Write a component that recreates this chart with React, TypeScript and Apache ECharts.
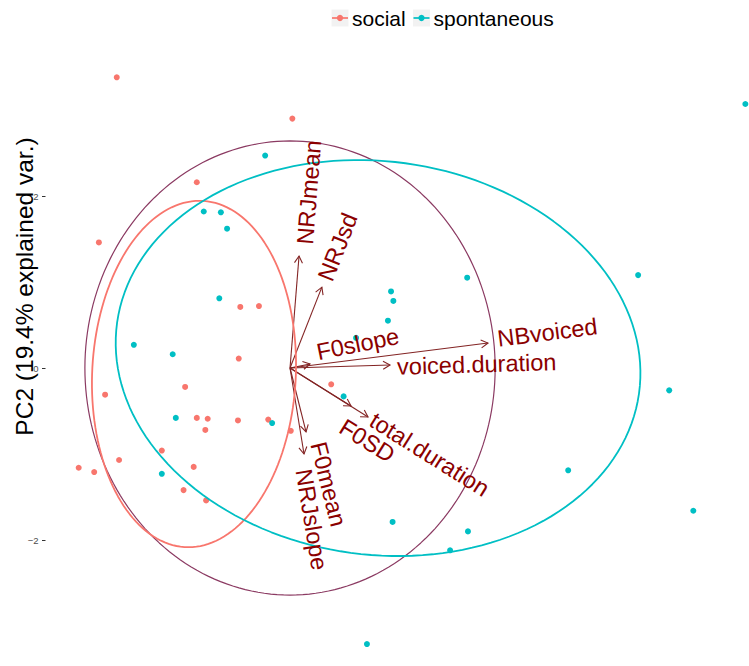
import React, { useEffect, useRef } from "react";
import * as echarts from "echarts";

// PCA scores (PC1, PC2) per speech type
const socialPC1 = [-2.23, 0.03, -1.2, -2.46, -0.64, -0.4, -0.66, -1.35, -2.38, -1.2, -1.06, -1.09, -0.67, -0.28, 0.01, -1.65, -2.2, -2.72, -2.52, -1.24, -1.37, -1.08, 0.53];
const socialPC2 = [3.38, 2.9, 2.16, 1.46, 0.71, 0.72, 0.11, -0.22, -0.31, -0.58, -0.59, -0.72, -0.61, -0.6, -0.73, -0.96, -1.07, -1.16, -1.21, -1.15, -1.42, -1.54, -0.19];
const spontaneousPC1 = [-0.32, -1.11, -0.89, -0.81, -0.91, -2.01, -1.51, -1.47, -0.23, -1.65, 2.28, 1.3, 1.33, 1.26, 0.85, 0.69, 3.58, 5.19, 1.32, 2.29, 2.06, 0.99, 5.86, 4.48, 4.88];
const spontaneousPC2 = [2.47, 1.82, 1.81, 1.62, 0.81, 0.27, 0.16, -0.58, -0.64, -1.23, 1.05, 0.89, 0.78, 0.55, 0.35, -0.33, -1.19, -1.66, -1.79, -1.9, -2.12, -3.21, 3.07, 1.08, -0.26];

// Variable loadings (arrow tips)
const variables = ["NRJmean", "NRJsd", "F0slope", "NBvoiced", "voiced.duration", "total.duration", "F0SD", "F0mean", "NRJslope"];
const loadingPC1 = [0.116, 0.41, 0.257, 2.548, 1.287, 1.004, 0.785, 0.206, 0.18];
const loadingPC2 = [1.302, 0.94, 0.047, 0.29, 0.035, -0.57, -0.442, -0.744, -1.0];

// Normal-probability ellipses per group: centre, semi-axes, tilt (degrees)
const groups = ["social", "spontaneous"];
const ellipseCenterX = [-1.236, 1.133];
const ellipseCenterY = [-0.07, 0.116];
const ellipseRadiusX = [1.31, 3.385];
const ellipseRadiusY = [2.016, 2.29];
const ellipseTilt = [-3.5, -5.5];

// Correlation circle radius
const circleRadius = 2.64;

// Y tick values
const yTicks = [-2, 0, 2];
const yTitle = "PC2 (19.4% explained var.)";

// ---- styling ----
const groupColors: Record<string, string> = { social: "#F8766D", spontaneous: "#00BFC4" };
const arrowColor = "#832424";
const labelColor = "#8B0000";
const circleColor = "#8B3A62";
const FONT = '"Liberation Sans", Arial, Helvetica, sans-serif';

// label nudges in pixels: [along arrow, perpendicular to arrow]
const labelNudge: Record<string, [number, number]> = {
  NRJmean: [12, -5],
  NRJsd: [8, 0],
  F0slope: [9, 10],
  NBvoiced: [10, 3],
  "voiced.duration": [7, -2],
  "total.duration": [4, 1],
  F0SD: [2, -21],
  F0mean: [13, 9],
  NRJslope: [15, -3],
};

function ellipsePoints(g: number, n = 160): number[][] {
  const phi = (ellipseTilt[g] * Math.PI) / 180;
  const pts: number[][] = [];
  for (let k = 0; k <= n; k++) {
    const t = (2 * Math.PI * k) / n;
    const ex = ellipseRadiusX[g] * Math.cos(t);
    const ey = ellipseRadiusY[g] * Math.sin(t);
    pts.push([
      ellipseCenterX[g] + ex * Math.cos(phi) - ey * Math.sin(phi),
      ellipseCenterY[g] + ex * Math.sin(phi) + ey * Math.cos(phi),
    ]);
  }
  return pts;
}

function circlePoints(n = 200): number[][] {
  const pts: number[][] = [];
  for (let k = 0; k <= n; k++) {
    const t = (2 * Math.PI * k) / n;
    pts.push([circleRadius * Math.cos(t), circleRadius * Math.sin(t)]);
  }
  return pts;
}

function legendItem(x: number, label: string, color: string): any[] {
  return [
    { type: "rect", shape: { x, y: 9.5, width: 17, height: 17 }, style: { fill: "#F2F2F2" } },
    { type: "line", shape: { x1: x + 0.5, y1: 18, x2: x + 16.5, y2: 18 }, style: { stroke: color, lineWidth: 1.7 } },
    { type: "circle", shape: { cx: x + 8.5, cy: 18, r: 3.1 }, style: { fill: color } },
    {
      type: "text",
      x: x + 20.5,
      y: 18,
      style: { text: label, fill: "#000", fontSize: 21, fontFamily: FONT, align: "left", verticalAlign: "middle" },
    },
  ];
}

export default function App() {
  const ref = useRef<HTMLDivElement>(null);

  useEffect(() => {
    document.body.style.margin = "0";
    if (!ref.current) return;
    const chart = echarts.init(ref.current, undefined, { renderer: "svg" });

    const loadings = variables.map((v, i) => [loadingPC1[i], loadingPC2[i], i]);

    const option: any = {
      animation: false,
      backgroundColor: "#fff",
      grid: { left: 45.5, right: 0, top: 32.6, bottom: 1.3, containLabel: false },
      xAxis: { type: "value", min: -3.147, max: 5.907, show: false },
      yAxis: {
        type: "value",
        min: -3.45,
        max: 3.9,
        axisLine: { show: false, onZero: false },
        splitLine: { show: false },
        axisTick: { show: true, length: 3.5, lineStyle: { color: "#333", width: 1 }, customValues: yTicks },
        axisLabel: {
          customValues: yTicks,
          fontSize: 9.5,
          color: "#4D4D4D",
          fontFamily: FONT,
          margin: 7,
          formatter: (v: number) => String(v).replace("-", "\u2212"),
        },
      },
      graphic: [
        {
          type: "text",
          x: 24,
          y: 286.5,
          rotation: Math.PI / 2,
          style: { text: yTitle, fill: "#000", fontSize: 24.5, fontFamily: FONT, align: "center", verticalAlign: "middle" },
        },
        ...legendItem(331.5, groups[0], groupColors.social),
        ...legendItem(413, groups[1], groupColors.spontaneous),
      ],
      series: [
        {
          name: "circle",
          type: "line",
          data: circlePoints(),
          showSymbol: false,
          silent: true,
          z: 1,
          lineStyle: { color: circleColor, width: 1.2 },
        },
        {
          name: "loadings",
          type: "custom",
          z: 2,
          silent: true,
          data: loadings,
          encode: { x: 0, y: 1 },
          renderItem: (params: any, api: any) => {
            const o = api.coord([0, 0]);
            const p = api.coord([api.value(0), api.value(1)]);
            const ang = Math.atan2(p[1] - o[1], p[0] - o[0]);
            const head = 8;
            const spread = Math.PI / 6;
            const h1 = [p[0] - head * Math.cos(ang - spread), p[1] - head * Math.sin(ang - spread)];
            const h2 = [p[0] - head * Math.cos(ang + spread), p[1] - head * Math.sin(ang + spread)];
            return {
              type: "group",
              children: [
                { type: "line", shape: { x1: o[0], y1: o[1], x2: p[0], y2: p[1] }, style: { stroke: arrowColor, lineWidth: 1.1 } },
                { type: "polyline", shape: { points: [h1, p, h2] }, style: { stroke: arrowColor, lineWidth: 1.1, fill: "none" } },
              ],
            };
          },
        },
        {
          name: groups[0],
          type: "scatter",
          z: 3,
          symbolSize: 6,
          itemStyle: { color: groupColors.social, opacity: 1 },
          data: socialPC1.map((x, i) => [x, socialPC2[i]]),
        },
        {
          name: groups[1],
          type: "scatter",
          z: 3,
          symbolSize: 6,
          itemStyle: { color: groupColors.spontaneous, opacity: 1 },
          data: spontaneousPC1.map((x, i) => [x, spontaneousPC2[i]]),
        },
        ...groups.map((g, gi) => ({
          name: g + " ellipse",
          type: "line",
          z: 4,
          silent: true,
          showSymbol: false,
          data: ellipsePoints(gi),
          lineStyle: { color: groupColors[g], width: 1.8 },
        })),
        {
          name: "variable labels",
          type: "custom",
          z: 5,
          silent: true,
          data: loadings,
          encode: { x: 0, y: 1 },
          renderItem: (params: any, api: any) => {
            const name = variables[params.dataIndex];
            const o = api.coord([0, 0]);
            const p = api.coord([api.value(0), api.value(1)]);
            const dx = p[0] - o[0];
            const dy = p[1] - o[1];
            const len = Math.hypot(dx, dy);
            const ux = dx / len;
            const uy = dy / len;
            const [along, perp] = labelNudge[name] || [8, 0];
            const ax = p[0] + along * ux + perp * uy;
            const ay = p[1] + along * uy - perp * ux;
            return {
              type: "text",
              x: ax,
              y: ay,
              rotation: Math.atan2(-dy, dx),
              style: {
                text: name,
                fill: labelColor,
                fontSize: 23.5,
                fontFamily: FONT,
                align: "left",
                verticalAlign: "middle",
              },
            };
          },
        },
      ],
    };

    chart.setOption(option);
    return () => chart.dispose();
  }, []);

  return <div ref={ref} style={{ width: 749, height: 666 }} />;
}
